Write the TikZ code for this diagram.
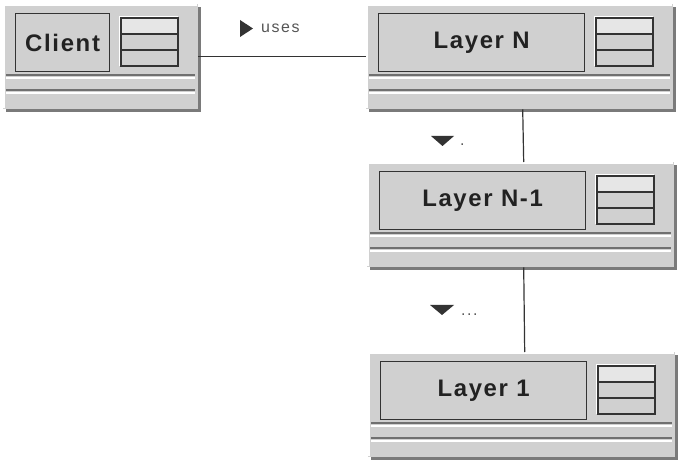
\documentclass[tikz,border=0pt]{standalone}
\usepackage{fontspec}
\setmainfont{Liberation Sans}
\newfontfamily\boxfont[LetterSpace=7]{Liberation Sans}
\newfontfamily\notefont[LetterSpace=10]{Liberation Sans}
\definecolor{boxgray}{HTML}{D0D0D0}
\definecolor{shadegray}{HTML}{7A7A7A}
\definecolor{edgegray}{HTML}{333333}
\definecolor{rulegray}{HTML}{707070}
\definecolor{iconhi}{HTML}{E6E6E6}
\definecolor{textgray}{HTML}{222222}
\definecolor{notegray}{HTML}{555555}
\tikzset{
  boxface/.style={fill=boxgray},
  boxshade/.style={fill=shadegray},
  labelbox/.style={draw=edgegray, line width=1.2bp, fill=boxgray, inner sep=0pt,
    minimum height=58bp, anchor=north west, text=textgray,
    font=\boxfont\bfseries\fontsize{24}{28}\selectfont},
  classnode/.style={inner sep=0pt, minimum height=105bp, anchor=north west},
  note/.style={font=\notefont\fontsize{16}{19}\selectfont, text=notegray, inner sep=0pt},
  link/.style={draw=edgegray, line width=1.2bp},
  marker/.style={fill=edgegray},
}
% one class box: name, x, y, width, label
\newcommand\umlclass[5]{%
  \begin{scope}[shift={(#2,#3)}]
    \fill[boxshade] (3,3) rectangle (#4,108);
    \fill[boxface] (0,0) rectangle (#4-3,105);
    \draw[white, line width=2bp] (1,104) -- (1,1) -- (#4-4,1);
    \node[labelbox, minimum width={(#4-104)*1bp}] (#1-label) at (12,9) {#5};
    \fill[white] (#4-82,12) rectangle (#4-23,62);
    \fill[boxface] (#4-80,14) rectangle (#4-23,62);
    \fill[iconhi] (#4-80,14) rectangle (#4-23,30);
    \draw[edgegray, line width=1.2bp] (#4-80,14) rectangle (#4-23,62)
      (#4-80,30) -- (#4-23,30) (#4-80,46) -- (#4-23,46);
    \foreach \ly in {71,86}{
      \draw[rulegray, line width=1.2bp] (3,\ly) -- (#4-6,\ly);
      \draw[white, line width=1.5bp] (3,\ly+3) -- (#4-6,\ly+3);
    }
    \node[classnode, minimum width={(#4-3)*1bp}] (#1) at (0,0) {};
  \end{scope}
}
\begin{document}
\begin{tikzpicture}[x=1bp, y=-1bp]
  \useasboundingbox (0,0) rectangle (681,463);
  \umlclass{client}{3}{4}{198}{Client}
  \umlclass{layerN}{366}{4}{310}{Layer N}
  \umlclass{layerNm}{367}{162}{310}{Layer N-1}
  \umlclass{layerOne}{368}{352}{310}{Layer 1}
  % connectors
  \draw[link] (client.east) -- (layerN.west);
  \draw[link] ([xshift=3bp]layerN.south) -- ([xshift=3bp]layerNm.north);
  \draw[link] ([xshift=3bp]layerNm.south) -- ([xshift=3bp]layerOne.north);
  % notes
  \node[note, anchor=west] (usesNote) at (261,28) {uses};
  \node[note, anchor=base west] (dotN) at (460,146) {.};
  \node[note, anchor=base west] (dotsNm) at (461,316) {...};
  \fill[marker] (240,20) -- (253,28.5) -- (240,37) -- cycle;
  \fill[marker] (431,136) -- (454,136) -- (442.5,146) -- cycle;
  \fill[marker] (430,305) -- (454,305) -- (442,315) -- cycle;
\end{tikzpicture}
\end{document}
